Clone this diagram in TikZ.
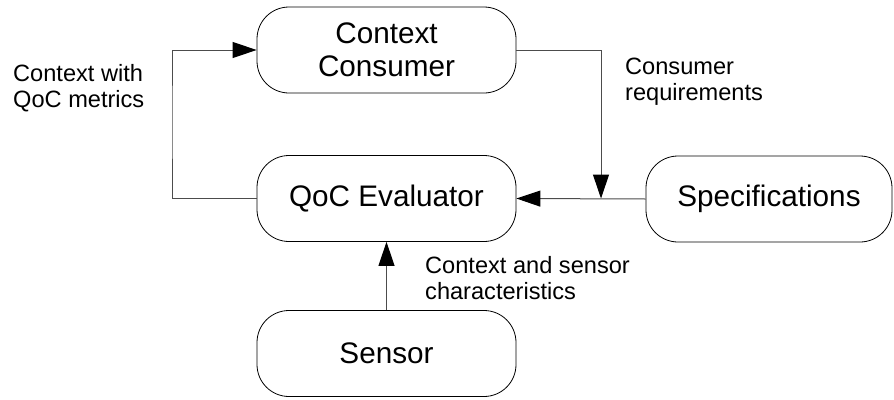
\documentclass[tikz,border=0pt]{standalone}
\usepackage{fontspec}
\setmainfont{Liberation Sans}
\usetikzlibrary{arrows.meta}
\begin{document}
\begin{tikzpicture}[x=1pt,y=-1pt,
  block/.style={draw=black,line width=0.8pt,rounded corners=32pt,
    minimum height=86pt,inner sep=0pt,align=center,
    font=\fontsize{29.7}{33}\selectfont},
  link/.style={draw=black!70,line width=1pt,
    -{Triangle[length=24pt,width=16pt,black]}},
  note/.style={anchor=base west,align=left,inner sep=0pt,
    font=\fontsize{23.6}{26.5}\selectfont}]
\useasboundingbox (0,0) rectangle (894,399);

% process blocks
\node[block,minimum width=259pt] (cons) at (386.5,50) {Context\\Consumer};
\node[block,minimum width=259pt] (qoc) at (386.5,198.5) {QoC Evaluator};
\node[block,minimum width=246pt] (spec) at (769,199) {Specifications};
\node[block,minimum width=259pt] (sens) at (386.5,353.5) {Sensor};

% routing points
\coordinate (j) at (601,198.5);
\coordinate (lb) at (172,120);

% connectors
\draw[link] (spec.west) -- (qoc.east);
\draw[link] (cons.east) -| (j);
\draw[link] (qoc.west) -| (lb) |- (cons.west);
\draw[link] (sens.north) -- (qoc.south);

% connector labels (anchored at the baseline of the last line)
\node[note] (l1) at (13,107.5) {Context with\\QoC metrics};
\node[note] (l2) at (625,100.5) {Consumer\\requirements};
\node[note] (l3) at (425,299.5) {Context and sensor\\characteristics};
\end{tikzpicture}
\end{document}
